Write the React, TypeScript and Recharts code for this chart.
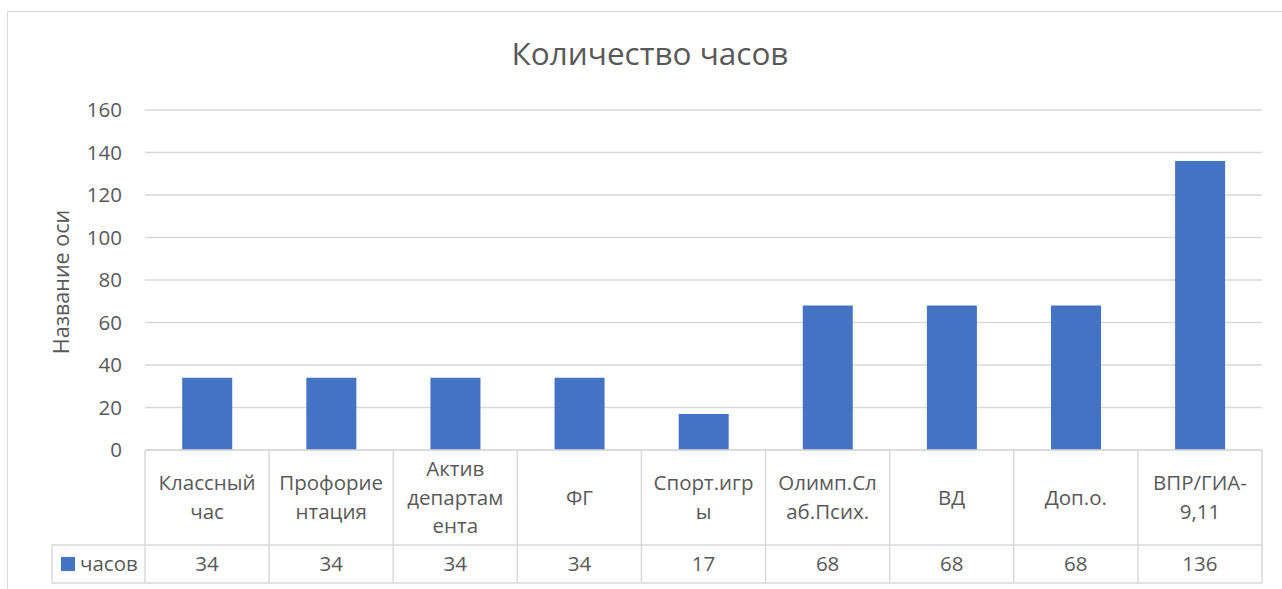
import { BarChart, Bar, XAxis, YAxis, CartesianGrid } from "recharts";

const categories = [
  "Классный\nчас",
  "Профорие\nнтация",
  "Актив\nдепартам\nента",
  "ФГ",
  "Спорт.игр\nы",
  "Олимп.Сл\nаб.Псих.",
  "ВД",
  "Доп.о.",
  "ВПР/ГИА-\n9,11",
];
const hours = [34, 34, 34, 34, 17, 68, 68, 68, 136];
const yTicks = [0, 20, 40, 60, 80, 100, 120, 140, 160];
const seriesName = "часов";

const data = categories.map((c, i) => ({ name: c, value: hours[i] }));

const W = 1282;
const H = 589;
const PLOT_LEFT = 145;
const PLOT_RIGHT = 1262;
const PLOT_TOP = 110;
const PLOT_BOTTOM = 450;
const HALF = (PLOT_RIGHT - PLOT_LEFT) / categories.length / 2;
const ROW1 = 95; // category label row height
const ROW2 = 38; // value row height
const LEGEND_W = 93;
const GRID = "#d9d9d9";
const TEXT = "#595959";
const FONT = "'Open Sans', sans-serif";
const FS = 20.5;
const BLUE = "#4472c4";

function TableTick(props: any) {
  const { x, index } = props;
  const y = PLOT_BOTTOM;
  const lines = categories[index].split("\n");
  const lh = 28.5;
  const mid = y + ROW1 / 2;
  const first = mid - ((lines.length - 1) * lh) / 2;
  const left = x - HALF;
  const right = x + HALF;
  return (
    <g>
      {index === 0 && (
        <g>
          <line x1={left - LEGEND_W} x2={left} y1={y + ROW1} y2={y + ROW1} stroke={GRID} strokeWidth={1.5} />
          <line x1={left - LEGEND_W} x2={left} y1={y + ROW1 + ROW2} y2={y + ROW1 + ROW2} stroke={GRID} strokeWidth={1.5} />
          <line x1={left - LEGEND_W} x2={left - LEGEND_W} y1={y + ROW1} y2={y + ROW1 + ROW2} stroke={GRID} strokeWidth={1.5} />
          <rect x={left - LEGEND_W + 9} y={y + ROW1 + 12} width={14} height={14} fill={BLUE} />
          <text x={left - LEGEND_W + 28} y={y + ROW1 + ROW2 / 2} dy="0.35em" fontSize={FS} fill={TEXT} fontFamily={FONT}>
            {seriesName}
          </text>
          <line x1={left} x2={left} y1={y} y2={y + ROW1 + ROW2} stroke={GRID} strokeWidth={1.5} />
        </g>
      )}
      <line x1={right} x2={right} y1={y} y2={y + ROW1 + ROW2} stroke={GRID} strokeWidth={1.5} />
      <line x1={left} x2={right} y1={y + ROW1} y2={y + ROW1} stroke={GRID} strokeWidth={1.5} />
      <line x1={left} x2={right} y1={y + ROW1 + ROW2} y2={y + ROW1 + ROW2} stroke={GRID} strokeWidth={1.5} />
      {lines.map((l, i) => (
        <text key={i} x={x} y={first + i * lh} dy="0.35em" textAnchor="middle" fontSize={FS} fill={TEXT} fontFamily={FONT}>
          {l}
        </text>
      ))}
      <text x={x} y={y + ROW1 + ROW2 / 2} dy="0.35em" textAnchor="middle" fontSize={FS} fill={TEXT} fontFamily={FONT}>
        {hours[index]}
      </text>
    </g>
  );
}

export default function App() {
  return (
    <div style={{ position: "absolute", left: 0, top: 0, width: W, height: H, background: "#fff", overflow: "hidden" }}>
      <div
        style={{
          position: "absolute",
          left: 7,
          top: 11,
          width: W,
          height: H,
          borderTop: `1.5px solid ${GRID}`,
          borderLeft: `1.5px solid ${GRID}`,
        }}
      />
      <div
        style={{
          position: "absolute",
          left: 0,
          top: 31,
          width: 1300,
          textAlign: "center",
          fontFamily: FONT,
          fontSize: 31.5,
          color: TEXT,
        }}
      >
        Количество часов
      </div>
      <div
        style={{
          position: "absolute",
          left: 60,
          top: 282,
          transform: "translate(-50%, -50%) rotate(-90deg)",
          whiteSpace: "nowrap",
          fontFamily: FONT,
          fontSize: 21.5,
          color: TEXT,
        }}
      >
        Название оси
      </div>
      <div style={{ position: "absolute", left: 0, top: 0 }}>
        <BarChart
          width={W}
          height={H}
          data={data}
          margin={{ top: PLOT_TOP, right: W - PLOT_RIGHT, bottom: 0, left: PLOT_LEFT - 60 }}
          barCategoryGap="30%"
        >
          <CartesianGrid vertical={false} stroke={GRID} strokeWidth={1.5} />
          <XAxis
            dataKey="name"
            height={H - PLOT_BOTTOM}
            interval={0}
            tickLine={false}
            tickSize={0}
            axisLine={{ stroke: GRID, strokeWidth: 1.5 }}
            tick={<TableTick />}
          />
          <YAxis
            width={60}
            domain={[0, 160]}
            ticks={yTicks}
            axisLine={false}
            tickLine={false}
            tickSize={0}
            tickMargin={23}
            tick={{ fontSize: FS, fill: TEXT, fontFamily: FONT }}
          />
          <Bar dataKey="value" fill={BLUE} isAnimationActive={false} />
        </BarChart>
      </div>
    </div>
  );
}
